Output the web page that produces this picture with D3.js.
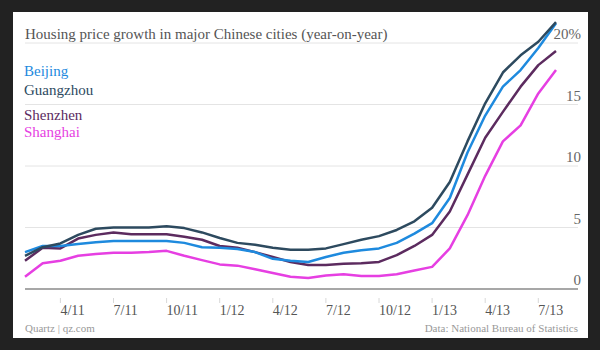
<!DOCTYPE html>
<html>
<head>
<meta charset="utf-8">
<script src="https://cdn.jsdelivr.net/npm/d3@7"></script>
<style>
  html, body { margin: 0; padding: 0; background: #222222; }
  svg { display: block; }
  text { font-family: "Liberation Serif", "DejaVu Serif", serif; }
</style>
</head>
<body>
<svg id="chart" width="600" height="350"></svg>
<script>
// monthly, Feb 2011 .. Aug 2013
var months = ["2011-02","2011-03","2011-04","2011-05","2011-06","2011-07","2011-08","2011-09","2011-10","2011-11","2011-12",
	"2012-01","2012-02","2012-03","2012-04","2012-05","2012-06","2012-07","2012-08","2012-09","2012-10","2012-11","2012-12",
	"2013-01","2013-02","2013-03","2013-04","2013-05","2013-06","2013-07","2013-08"];

var beijing   = [3.0, 3.5, 3.5, 3.65, 3.8, 3.9, 3.9, 3.9, 3.9, 3.75, 3.4, 3.35, 3.25, 3.0, 2.45, 2.3, 2.2, 2.6, 2.95, 3.15, 3.3, 3.75, 4.5, 5.35, 7.4, 11.1, 14.1, 16.45, 17.8, 19.6, 21.6];
var guangzhou = [2.7, 3.4, 3.7, 4.4, 4.9, 5.0, 5.0, 5.0, 5.1, 4.95, 4.6, 4.15, 3.75, 3.6, 3.35, 3.2, 3.2, 3.3, 3.65, 4.0, 4.3, 4.8, 5.5, 6.6, 8.7, 12.0, 15.1, 17.6, 19.0, 20.1, 21.7];
var shenzhen  = [2.3, 3.35, 3.3, 4.1, 4.4, 4.6, 4.45, 4.45, 4.45, 4.25, 4.0, 3.5, 3.35, 3.0, 2.6, 2.2, 1.95, 1.95, 2.05, 2.1, 2.2, 2.75, 3.5, 4.4, 6.3, 9.3, 12.3, 14.4, 16.45, 18.2, 19.35];
var shanghai  = [1.0, 2.1, 2.3, 2.7, 2.85, 2.95, 2.95, 3.0, 3.1, 2.7, 2.35, 2.0, 1.9, 1.6, 1.3, 1.0, 0.9, 1.1, 1.2, 1.05, 1.05, 1.2, 1.5, 1.8, 3.3, 6.0, 9.2, 12.0, 13.3, 15.9, 17.8];

var cities = ["Beijing", "Guangzhou", "Shenzhen", "Shanghai"];
var cityColors = ["#1e8ade", "#2d4a5f", "#5c2b5f", "#e63fe2"];
var xTicks = ["2011-04","2011-07","2011-10","2012-01","2012-04","2012-07","2012-10","2013-01","2013-04","2013-07"];
var xTickLabels = ["4/11","7/11","10/11","1/12","4/12","7/12","10/12","1/13","4/13","7/13"];
var yTicks = [0, 5, 10, 15, 20];

var series = [shanghai, shenzhen, beijing, guangzhou];
var seriesColors = [cityColors[3], cityColors[2], cityColors[0], cityColors[1]];

var svg = d3.select("#chart");

// white card
svg.append("rect")
	.attr("x", 13).attr("y", 12)
	.attr("width", 575).attr("height", 326)
	.attr("fill", "#ffffff");

let left = 25, right = 578;

var x = d3.scalePoint().domain(months).range([25, 556]);
var y = d3.scaleLinear().domain([0, 20]).range([289, 43]);

// gridlines
svg.selectAll(".grid")
	.data(yTicks.filter(d => d > 0))
	.enter()
	.append("line")
	.attr("class", "grid")
	.attr("x1", left).attr("x2", right)
	.attr("y1", d => y(d)).attr("y2", d => y(d))
	.attr("stroke", "#e4e4e4")
	.attr("stroke-width", 1);

svg.append("line")
	.attr("x1", left).attr("x2", right)
	.attr("y1", y(0)).attr("y2", y(0))
	.attr("stroke", "#8a8a8a")
	.attr("stroke-width", 1.5);

// y labels
svg.selectAll(".ylab")
	.data(yTicks)
	.enter()
	.append("text")
	.attr("class", "ylab")
	.attr("x", 581)
	.attr("y", d => y(d) - 4)
	.attr("text-anchor", "end")
	.attr("font-size", 15)
	.attr("fill", "#666")
	.text(d => d === 20 ? "20%" : d);

// x ticks
svg.selectAll(".xtick")
	.data(xTicks)
	.enter()
	.append("line")
	.attr("class", "xtick")
	.attr("x1", d => x(d)).attr("x2", d => x(d))
	.attr("y1", 298).attr("y2", 303)
	.attr("stroke", "#d8d8d8")
	.attr("stroke-width", 1);

svg.selectAll(".xlab")
	.data(xTicks)
	.enter()
	.append("text")
	.attr("class", "xlab")
	.attr("x", d => x(d))
	.attr("y", 315)
	.attr("font-size", 14)
	.attr("fill", "#555")
	.text((d, i) => xTickLabels[i]);

// lines
var line = d3.line()
	.x(function (d, i) { return x(months[i]); })
	.y(function (d) { return y(d); });

svg.selectAll(".city")
	.data(series)
	.enter()
	.append("path")
	.attr("class", "city")
	.attr("d", d => line(d))
	.attr("fill", "none")
	.attr("stroke", (d, i) => seriesColors[i])
	.attr("stroke-width", 2.5)
	.attr("stroke-linejoin", "round");

// title
svg.append("text")
	.attr("x", 25).attr("y", 39)
	.attr("font-size", 15)
	.attr("fill", "#555")
	.text("Housing price growth in major Chinese cities (year-on-year)");

// legend
var legendY = [76, 95, 120, 137];
svg.selectAll(".legend")
	.data(cities)
	.enter()
	.append("text")
	.attr("class", "legend")
	.attr("x", 24)
	.attr("y", (d, i) => legendY[i])
	.attr("font-size", 15)
	.attr("fill", (d, i) => cityColors[i])
	.text(d => d);

// footer
svg.append("text")
	.attr("x", 25).attr("y", 332)
	.attr("font-size", 11)
	.attr("fill", "#999")
	.text("Quartz | qz.com");

svg.append("text")
	.attr("x", 578).attr("y", 332)
	.attr("text-anchor", "end")
	.attr("font-size", 11)
	.attr("fill", "#999")
	.text("Data: National Bureau of Statistics");
</script>
</body>
</html>
